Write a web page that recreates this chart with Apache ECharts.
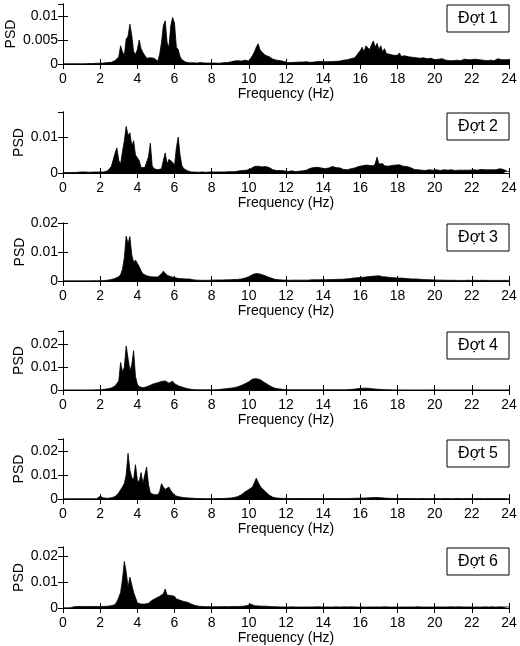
<!DOCTYPE html>
<html><head><meta charset="utf-8">
<script src="https://cdn.jsdelivr.net/npm/echarts@6/dist/echarts.min.js"></script>
<style>html,body{margin:0;padding:0;background:#fff}#c{width:520px;height:646px}</style>
</head><body><div id="c"></div>
<script>
// Sample grid (Hz) and panel labels
const freqStep = 0.1;
const freqMax = 24;
const panelNames = ['Đợt 1', 'Đợt 2', 'Đợt 3', 'Đợt 4', 'Đợt 5', 'Đợt 6'];
const xTickInterval = 2;
const yMax = [0.0125, 0.017, 0.02, 0.026, 0.025, 0.0235];
const yInterval = [0.005, 0.01, 0.01, 0.01, 0.01, 0.01];

// PSD values, in units of 1e-3, one row per Hz (0.1 Hz steps)
const psd1 = [
0.05,0.05,0.05,0.05,0.05,0.05,0.05,0.05,0.05,0.05,
0.05,0.1,0.05,0.1,0.1,0.05,0.1,0.1,0.15,0.1,
0.15,0.1,0.2,0.15,0.3,0.2,0.35,0.5,0.7,0.9,
1.5,3.8,2.5,1.8,5.2,5.8,8.3,6.0,2.6,2.0,
3.0,5.0,3.2,2.4,1.8,1.2,1.0,1.3,1.6,1.2,
1.4,0.6,2.0,4.5,8.0,9.0,4.5,3.5,8.0,9.7,
8.5,3.5,3.0,1.5,0.9,0.5,0.4,0.3,0.25,0.3,
0.25,0.3,0.2,0.25,0.3,0.2,0.2,0.25,0.2,0.2,
0.2,0.15,0.2,0.2,0.15,0.2,0.25,0.2,0.3,0.3,
0.4,0.5,0.6,0.8,0.7,0.9,0.6,0.5,0.8,0.7,
0.6,1.2,1.8,2.5,3.5,4.2,3.0,2.5,2.2,1.8,
1.6,1.5,1.2,1.0,1.1,0.8,0.9,0.7,0.6,0.5,
0.4,0.3,0.35,0.3,0.4,0.35,0.3,0.4,0.35,0.4,
0.35,0.45,0.4,0.35,0.5,0.4,0.45,0.5,0.4,0.5,
0.5,0.45,0.6,0.5,0.55,0.5,0.6,0.55,0.7,0.6,
0.7,0.8,0.7,0.9,1.0,1.1,1.0,1.3,1.8,2.2,
2.8,3.5,2.5,3.8,4.2,3.0,4.0,4.8,3.5,4.3,
3.0,3.8,2.5,3.2,2.2,2.6,2.0,2.4,1.8,2.2,
1.8,2.3,1.6,2.0,1.7,1.9,1.5,1.6,1.4,1.5,
1.3,1.5,1.2,1.0,1.3,1.0,1.1,0.9,1.2,1.0,
0.9,1.3,1.0,0.8,1.1,0.9,0.8,1.0,0.7,0.9,
0.7,0.9,0.8,1.1,0.7,0.8,1.0,0.7,0.9,0.8,
0.9,0.7,1.0,0.8,0.9,0.7,0.8,1.1,0.7,0.9,
0.8,1.0,0.7,0.9,1.1,0.8,0.9,1.2,0.9,1.0,
0.9];

const psd2 = [
0.1,0.1,0.15,0.1,0.15,0.2,0.15,0.2,0.2,0.25,
0.3,0.35,0.3,0.25,0.2,0.3,0.25,0.2,0.3,0.25,
0.3,0.35,0.3,0.4,0.6,1.2,1.8,1.5,5.5,7.0,
3.5,2.5,6.0,9.0,13.0,10.5,11.2,7.5,9.0,5.0,
4.8,3.5,1.5,1.2,1.5,1.8,4.5,8.3,2.0,1.2,
1.0,0.9,1.0,1.2,3.5,5.6,2.5,3.8,4.3,3.0,
2.0,7.0,10.0,5.0,2.0,1.2,0.9,0.6,0.4,0.3,
0.3,0.25,0.3,0.2,0.25,0.3,0.25,0.2,0.25,0.3,
0.25,0.3,0.2,0.3,0.25,0.3,0.35,0.3,0.3,0.35,
0.4,0.35,0.45,0.4,0.5,0.6,0.5,0.7,0.6,0.8,
0.9,1.2,1.5,1.8,2.2,1.9,2.3,1.7,1.5,1.8,
1.3,1.5,1.1,0.9,0.8,0.7,0.6,0.7,0.5,0.6,
0.5,0.4,0.5,0.6,0.5,0.4,0.6,0.5,0.7,0.6,
0.7,0.8,1.0,1.3,1.1,1.5,1.2,1.6,1.3,1.4,
1.5,1.2,1.6,1.4,1.3,1.8,2.3,1.5,1.3,1.4,
1.2,1.0,1.1,0.9,1.0,1.2,1.0,1.4,1.6,1.8,
1.7,2.0,1.8,2.2,1.9,2.1,2.4,2.0,2.6,4.4,
2.5,2.2,2.6,2.0,2.3,1.9,2.4,2.1,2.5,2.2,
2.0,2.3,2.1,1.9,2.4,1.8,2.0,1.5,1.2,1.0,
0.8,0.9,0.7,0.8,1.0,0.7,0.8,0.9,0.7,0.8,
0.7,0.9,0.8,0.7,0.8,0.9,0.7,0.8,0.7,0.9,
0.8,0.7,0.9,0.8,0.7,0.8,0.9,0.8,0.7,0.8,
0.8,0.9,0.7,0.8,0.9,1.0,0.8,0.9,1.0,0.9,
1.0,0.9,1.1,0.9,1.0,1.2,0.9,1.0,0.6,0.5,
0.4];

const psd3 = [
0.05,0.05,0.05,0.05,0.05,0.05,0.05,0.05,0.05,0.05,
0.05,0.05,0.05,0.05,0.05,0.05,0.1,0.05,0.1,0.1,
0.1,0.1,0.15,0.2,0.3,0.4,0.5,0.8,0.9,1.2,
1.5,2.2,4.0,8.0,15.5,13.0,15.3,9.0,6.5,7.2,
7.8,5.0,3.5,2.5,2.0,1.8,1.6,1.5,1.4,1.4,
1.3,1.4,1.8,2.5,3.4,2.8,2.0,1.7,1.5,1.3,
1.2,1.0,0.9,0.8,0.8,0.7,0.7,0.6,0.7,0.5,
0.4,0.35,0.3,0.3,0.25,0.3,0.25,0.3,0.25,0.3,
0.3,0.3,0.35,0.3,0.35,0.4,0.35,0.4,0.4,0.45,
0.4,0.45,0.5,0.5,0.55,0.6,0.7,0.8,1.0,1.2,
1.5,1.8,2.2,2.5,2.6,2.6,2.4,2.2,2.0,1.8,
1.5,1.2,1.0,0.8,0.6,0.5,0.45,0.4,0.35,0.3,
0.3,0.3,0.25,0.3,0.3,0.25,0.3,0.3,0.3,0.3,
0.3,0.35,0.3,0.35,0.4,0.35,0.4,0.4,0.45,0.4,
0.45,0.5,0.45,0.5,0.5,0.55,0.5,0.55,0.6,0.6,
0.6,0.65,0.7,0.7,0.8,0.9,1.0,1.0,1.1,1.2,
1.2,1.3,1.3,1.4,1.5,1.4,1.6,1.8,1.7,1.9,
1.8,1.6,1.5,1.4,1.4,1.3,1.2,1.2,1.1,1.1,
1.0,1.0,1.0,0.9,0.9,0.9,0.8,0.8,0.7,0.7,
0.7,0.6,0.6,0.5,0.5,0.5,0.45,0.4,0.4,0.4,
0.35,0.35,0.3,0.3,0.3,0.3,0.25,0.25,0.25,0.25,
0.25,0.25,0.2,0.25,0.2,0.25,0.2,0.2,0.25,0.2,
0.2,0.2,0.25,0.2,0.2,0.2,0.25,0.2,0.2,0.2,
0.2,0.2,0.2,0.2,0.2,0.2,0.2,0.2,0.2,0.2,
0.2];

const psd4 = [
0.05,0.05,0.05,0.05,0.05,0.05,0.05,0.05,0.05,0.05,
0.05,0.05,0.05,0.05,0.05,0.05,0.05,0.1,0.1,0.1,
0.1,0.2,0.3,0.4,0.5,0.7,0.9,1.3,1.8,2.5,
4.0,12.1,8.0,10.0,19.4,14.0,8.5,11.0,17.3,6.0,
2.5,1.5,1.1,1.0,1.2,1.4,1.8,2.1,2.4,2.8,
3.0,3.2,3.5,3.8,4.4,4.0,3.5,3.0,3.6,3.9,
2.8,2.2,1.9,1.6,1.3,1.0,0.8,0.6,0.4,0.3,
0.2,0.15,0.1,0.1,0.1,0.1,0.1,0.1,0.1,0.1,
0.1,0.1,0.15,0.15,0.2,0.3,0.4,0.5,0.6,0.7,
0.8,0.9,1.0,1.2,1.4,1.7,2.0,2.4,2.8,3.2,
3.6,4.2,4.8,5.5,5.0,5.2,4.6,4.0,3.5,3.0,
2.5,2.0,1.5,1.0,0.8,0.6,0.5,0.4,0.3,0.25,
0.2,0.15,0.1,0.1,0.1,0.1,0.1,0.1,0.1,0.1,
0.1,0.1,0.1,0.1,0.1,0.1,0.1,0.1,0.1,0.1,
0.1,0.1,0.1,0.1,0.1,0.1,0.1,0.1,0.1,0.1,
0.1,0.1,0.1,0.15,0.2,0.2,0.3,0.4,0.5,0.6,
0.7,0.8,0.8,0.9,0.8,0.7,0.6,0.5,0.4,0.35,
0.3,0.25,0.2,0.2,0.15,0.1,0.1,0.1,0.05,0.05,
0.05,0.05,0.05,0.05,0.05,0.05,0.05,0.05,0.05,0.05,
0.05,0.05,0.05,0.05,0.05,0.05,0.05,0.05,0.05,0.05,
0.05,0.05,0.05,0.05,0.05,0.05,0.05,0.05,0.05,0.05,
0.05,0.05,0.05,0.05,0.05,0.05,0.05,0.05,0.05,0.05,
0.05,0.05,0.05,0.05,0.05,0.05,0.05,0.05,0.05,0.05,
0.05,0.05,0.05,0.05,0.05,0.05,0.05,0.05,0.05,0.05,
0.05];

const psd5 = [
0.1,0.1,0.1,0.15,0.1,0.1,0.15,0.1,0.1,0.1,
0.1,0.1,0.1,0.1,0.15,0.1,0.1,0.2,0.1,0.3,
1.1,0.8,0.4,0.3,0.3,0.4,0.5,0.7,1.0,1.6,
2.5,3.9,5.0,6.5,10.0,19.0,12.0,9.0,8.0,14.3,
8.0,7.0,11.0,6.5,10.0,13.3,6.0,2.5,2.0,1.8,
1.7,1.8,3.0,6.4,5.0,4.0,4.5,5.0,3.5,2.5,
1.5,1.2,1.0,0.8,0.7,0.6,0.5,0.5,0.4,0.3,
0.3,0.25,0.2,0.2,0.2,0.2,0.15,0.2,0.15,0.15,
0.15,0.15,0.2,0.15,0.2,0.2,0.2,0.25,0.3,0.3,
0.4,0.5,0.6,0.8,1.0,1.4,1.8,2.3,3.0,3.5,
4.0,4.5,5.0,5.5,8.7,7.0,5.5,4.5,3.9,3.0,
2.3,1.6,1.0,0.7,0.5,0.4,0.35,0.3,0.3,0.25,
0.2,0.2,0.2,0.2,0.2,0.2,0.2,0.2,0.2,0.2,
0.2,0.2,0.2,0.2,0.2,0.2,0.2,0.2,0.2,0.2,
0.2,0.2,0.2,0.2,0.2,0.2,0.2,0.2,0.2,0.2,
0.2,0.2,0.2,0.2,0.25,0.25,0.3,0.3,0.3,0.35,
0.35,0.4,0.4,0.45,0.4,0.5,0.5,0.6,0.5,0.6,
0.5,0.5,0.4,0.4,0.35,0.3,0.3,0.25,0.25,0.2,
0.2,0.2,0.2,0.2,0.2,0.2,0.2,0.2,0.2,0.2,
0.2,0.15,0.2,0.2,0.15,0.2,0.2,0.15,0.2,0.2,
0.15,0.2,0.2,0.15,0.2,0.2,0.15,0.2,0.2,0.15,
0.2,0.2,0.15,0.2,0.2,0.15,0.2,0.2,0.15,0.2,
0.2,0.15,0.2,0.2,0.15,0.2,0.2,0.15,0.2,0.2,
0.15,0.2,0.2,0.15,0.2,0.2,0.15,0.2,0.2,0.15,
0.15];

const psd6 = [
0.05,0.05,0.05,0.05,0.1,0.4,0.5,0.6,0.6,0.55,
0.6,0.55,0.6,0.6,0.55,0.6,0.6,0.65,0.6,0.6,
0.6,0.65,0.6,0.7,0.7,0.8,0.9,1.1,1.3,2.5,
4.0,6.0,11.0,17.9,14.0,8.0,11.9,9.0,6.0,4.0,
2.0,1.6,1.5,1.4,1.5,1.6,1.8,2.4,3.0,3.5,
3.8,4.0,4.5,5.0,5.5,7.3,5.0,5.5,4.8,5.5,
4.5,3.5,3.2,3.0,2.8,2.5,2.3,2.2,1.8,1.5,
1.2,1.0,0.8,0.7,0.6,0.55,0.5,0.5,0.45,0.5,
0.5,0.45,0.5,0.5,0.45,0.5,0.5,0.55,0.5,0.5,
0.5,0.55,0.5,0.55,0.6,0.6,0.7,0.7,0.8,0.9,
1.0,1.5,1.2,0.9,1.0,0.8,0.9,0.7,0.8,0.7,
0.6,0.55,0.5,0.5,0.45,0.5,0.45,0.4,0.45,0.4,
0.4,0.35,0.4,0.45,0.35,0.4,0.4,0.35,0.45,0.4,
0.35,0.4,0.45,0.4,0.35,0.4,0.4,0.45,0.35,0.4,
0.4,0.35,0.45,0.4,0.4,0.35,0.4,0.45,0.4,0.35,
0.4,0.45,0.35,0.4,0.4,0.45,0.35,0.4,0.4,0.35,
0.45,0.4,0.4,0.35,0.45,0.4,0.35,0.4,0.45,0.4,
0.35,0.4,0.4,0.45,0.35,0.4,0.4,0.35,0.45,0.4,
0.4,0.35,0.45,0.4,0.35,0.4,0.45,0.4,0.35,0.4,
0.4,0.45,0.35,0.4,0.4,0.35,0.45,0.4,0.4,0.35,
0.45,0.4,0.35,0.4,0.45,0.4,0.35,0.4,0.4,0.45,
0.35,0.4,0.4,0.45,0.35,0.4,0.45,0.4,0.35,0.4,
0.4,0.35,0.45,0.4,0.4,0.35,0.4,0.45,0.4,0.35,
0.4,0.45,0.4,0.35,0.4,0.45,0.4,0.4,0.35,0.4,
0.4];

const panels = [psd1, psd2, psd3, psd4, psd5, psd6];

// Layout
const gridLeft = 63, gridWidth = 446;
const gridTop = [4, 112, 223, 331, 439, 547];
const gridHeight = [60, 61, 58, 59, 60, 61];
const psdNameGap = [45, 37, 36, 37, 37, 37];
const FONT = 'Liberation Sans, Arial, Helvetica, sans-serif';

const grids = [], xAxes = [], yAxes = [], series = [], graphics = [];
panels.forEach((vals, k) => {
  grids.push({ left: gridLeft, top: gridTop[k], width: gridWidth, height: gridHeight[k],
               containLabel: false, outerBoundsMode: 'none' });
  const axLine = { show: true, lineStyle: { color: '#000', width: 1 } };
  const tick = { show: true, inside: true, length: 5, lineStyle: { color: '#000' } };
  xAxes.push({
    type: 'value', gridIndex: k, min: 0, max: freqMax, interval: xTickInterval,
    position: 'bottom', axisLine: axLine, axisTick: tick, splitLine: { show: false },
    axisLabel: { color: '#000', fontSize: 14, fontFamily: FONT, margin: 8 },
    name: 'Frequency (Hz)', nameLocation: 'middle', nameGap: 23, nameMoveOverlap: false,
    nameTextStyle: { color: '#000', fontSize: 14, fontFamily: FONT }
  });
  xAxes.push({
    type: 'value', gridIndex: k, min: 0, max: freqMax, interval: xTickInterval,
    position: 'top', axisLine: axLine, axisTick: tick, splitLine: { show: false },
    axisLabel: { show: false }
  });
  const maxIsTick = Math.abs(yMax[k] / yInterval[k] - Math.round(yMax[k] / yInterval[k])) < 1e-9;
  yAxes.push({
    type: 'value', gridIndex: k, min: 0, max: yMax[k], interval: yInterval[k],
    position: 'left', axisLine: axLine, axisTick: tick, splitLine: { show: false },
    axisLabel: { color: '#000', fontSize: 14, fontFamily: FONT, margin: 5, showMaxLabel: maxIsTick },
    name: 'PSD', nameLocation: 'middle', nameGap: psdNameGap[k], nameMoveOverlap: false,
    nameTextStyle: { color: '#000', fontSize: 14, fontFamily: FONT }
  });
  yAxes.push({
    type: 'value', gridIndex: k, min: 0, max: yMax[k], interval: yInterval[k],
    position: 'right', axisLine: axLine, axisTick: tick, splitLine: { show: false },
    axisLabel: { show: false }
  });
  series.push({
    type: 'line', xAxisIndex: 2 * k, yAxisIndex: 2 * k,
    data: vals.map((v, i) => [Math.round(i * freqStep * 10) / 10, v / 1000]),
    symbol: 'none', silent: true, animation: false,
    lineStyle: { color: '#000', width: 0.8 },
    areaStyle: { color: '#000', opacity: 1 }
  });
  const bx = gridLeft + gridWidth - 62, by = gridTop[k] + 1;
  graphics.push({
    type: 'group', z: 100,
    children: [
      { type: 'rect', shape: { x: bx, y: by, width: 62, height: 27 },
        style: { fill: '#fff', stroke: '#000', lineWidth: 1 } },
      { type: 'text', x: bx + 31, y: by + 14,
        style: { text: panelNames[k], fill: '#000', font: '16px ' + FONT, align: 'center', verticalAlign: 'middle' } }
    ]
  });
});

const chart = echarts.init(document.getElementById('c'), null, { renderer: 'canvas' });
chart.setOption({
  animation: false,
  backgroundColor: '#fff',
  grid: grids, xAxis: xAxes, yAxis: yAxes, series: series, graphic: graphics
});
</script></body></html>
